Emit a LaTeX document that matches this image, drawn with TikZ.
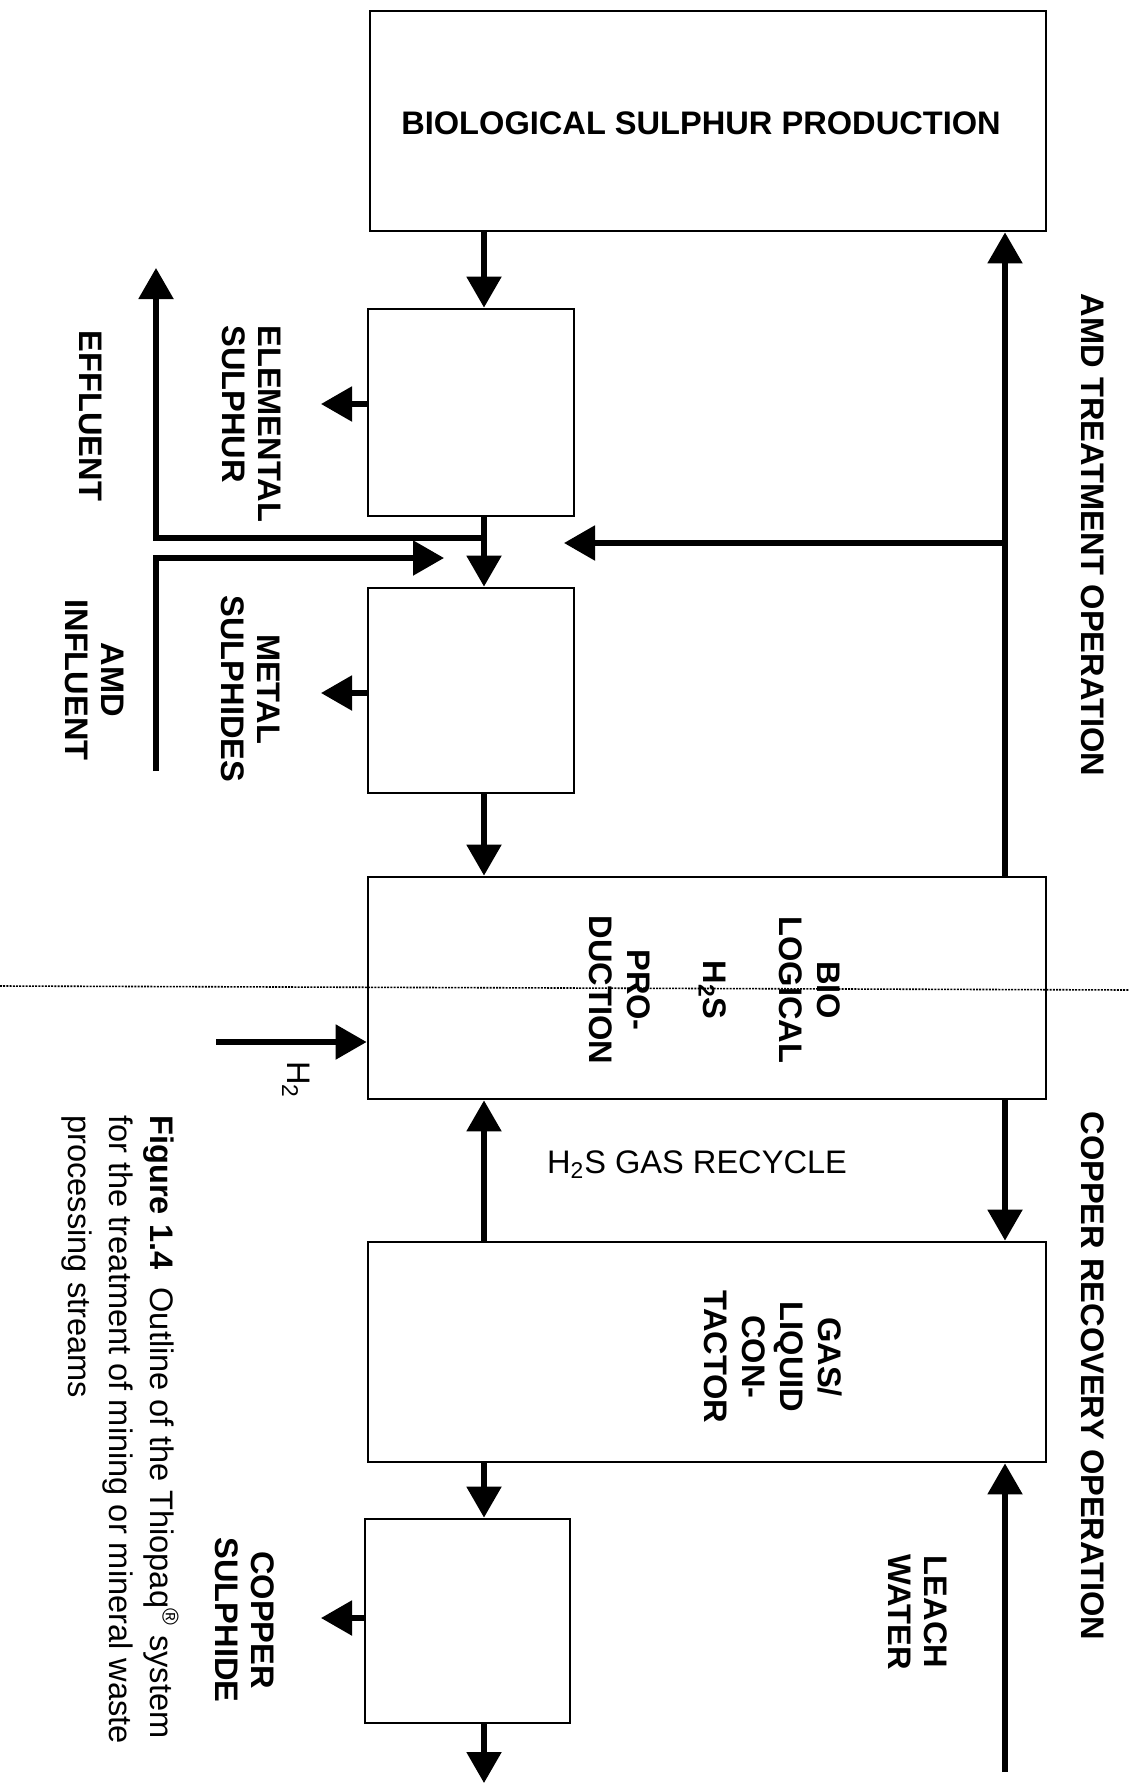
\documentclass[tikz,border=0pt]{standalone}
\usepackage{fontspec}
\setmainfont{Liberation Sans}
\usetikzlibrary{arrows.meta}
\begin{document}
\begin{tikzpicture}[x=0.5pt,y=-0.5pt,
  box/.style={draw, line width=1.4pt, inner sep=0pt},
  flow/.style={line width=2.7pt, line join=miter, -{Triangle[width=17pt,length=15.5pt]}},
  lbl/.style={font=\bfseries\fontsize{16.3}{18}\selectfont, inner sep=0pt, align=center},
  vlbl/.style={lbl, rotate=-90},
  reg/.style={font=\fontsize{16.3}{18}\selectfont},
]
\useasboundingbox (0,0) rectangle (1129,1787);

% boxes
\node[box, minimum width=338pt, minimum height=110pt] (top) at (708,121) {};
\node[box, minimum width=103pt, minimum height=103.5pt] (elem) at (471,412.5) {};
\node[box, minimum width=103pt, minimum height=102.5pt] (metal) at (471,690.5) {};
\node[box, minimum width=339pt, minimum height=111pt] (bio) at (707,988) {};
\node[box, minimum width=339pt, minimum height=110pt] (gas) at (707,1352) {};
\node[box, minimum width=102.5pt, minimum height=102pt] (cu) at (467.5,1621) {};

% helper coordinates
\coordinate (cx) at (484,0);
\coordinate (rx) at (1005,0);
\coordinate (stip) at (321,0);
\coordinate (ys1) at (0,404);
\coordinate (ys2) at (0,693);
\coordinate (ys3) at (0,1618);
\coordinate (bottomtip) at (484,1783);
\coordinate (leachbot) at (1005,1772);
\coordinate (j1) at (484,538);
\coordinate (efftip) at (156,268);
\coordinate (infbot) at (156,771);
\coordinate (inftip) at (444,558);
\coordinate (j2) at (1005,543);
\coordinate (rtip) at (564,543);
\coordinate (h2start) at (216,1042);
\coordinate (dl) at (0,986);
\coordinate (dr) at (1129,990);

% main column
\draw[flow] (top.south -| cx) -- (elem.north -| cx);
\draw[flow] (elem.south -| cx) -- (metal.north -| cx);
\draw[flow] (metal.south -| cx) -- (bio.north -| cx);
\draw[flow] (gas.north -| cx) -- (bio.south -| cx);
\draw[flow] (gas.south -| cx) -- (cu.north -| cx);
\draw[flow] (cu.south -| cx) -- (bottomtip);

% right column
\draw[flow] (bio.north -| rx) -- (top.south -| rx);
\draw[flow] (bio.south -| rx) -- (gas.north -| rx);
\draw[flow] (leachbot) -- (gas.south -| rx);
\draw[flow] (j2) -- (rtip);

% side outputs
\draw[flow] (elem.west |- ys1) -- (stip |- ys1);
\draw[flow] (metal.west |- ys2) -- (stip |- ys2);
\draw[flow] (cu.west |- ys3) -- (stip |- ys3);

% effluent / influent
\draw[flow] (j1) -| (efftip);
\draw[flow] (infbot) |- (inftip);

% hydrogen
\draw[flow] (h2start) -- (bio.west |- h2start);

% dotted line
\draw[line width=0.8pt, dash pattern=on 1pt off 0.6pt] (dl) -- (dr);

% labels
\node[lbl] (toplbl) at (701,123.5) {BIOLOGICAL SULPHUR PRODUCTION};
\node[vlbl, anchor=west, align=left] (elemlbl) at (252,325) {ELEMENTAL\\SULPHUR};
\node[vlbl] (efflbl) at (91,416) {EFFLUENT};
\node[vlbl] (metallbl) at (251,689) {METAL\\SULPHIDES};
\node[vlbl] (amdlbl) at (95,680) {AMD\\INFLUENT};
\node[vlbl, font=\bfseries\fontsize{16.3}{19}\selectfont] (biolbl) at (715,990) {BIO\\LOGICAL\\[19pt]H\textsubscript{2}S\\[19pt]PRO-\\DUCTION};
\node[vlbl, font=\bfseries\fontsize{16.3}{19}\selectfont] (gaslbl) at (773,1357) {GAS/\\LIQUID\\CON-\\TACTOR};
\node[lbl, reg] (recyc) at (697,1165) {H\textsubscript{2}S GAS RECYCLE};
\node[vlbl, reg] (h2lbl) at (296,1080) {H\textsubscript{2}};
\node[vlbl] (amdop) at (1093,535) {AMD TREATMENT OPERATION};
\node[vlbl] (cuop) at (1093,1376) {COPPER RECOVERY OPERATION};
\node[vlbl] (leach) at (918,1612) {LEACH\\WATER};
\node[vlbl] (culbl) at (245,1620) {COPPER\\SULPHIDE};
\node[vlbl, anchor=west, align=left, font=\fontsize{16.3}{20.5}\selectfont] (cap) at (120,1115) {\textbf{Figure 1.4}\ \ Outline of the Thiopaq\textsuperscript{®} system\\for the treatment of mining or mineral waste\\processing streams};
\end{tikzpicture}
\end{document}
